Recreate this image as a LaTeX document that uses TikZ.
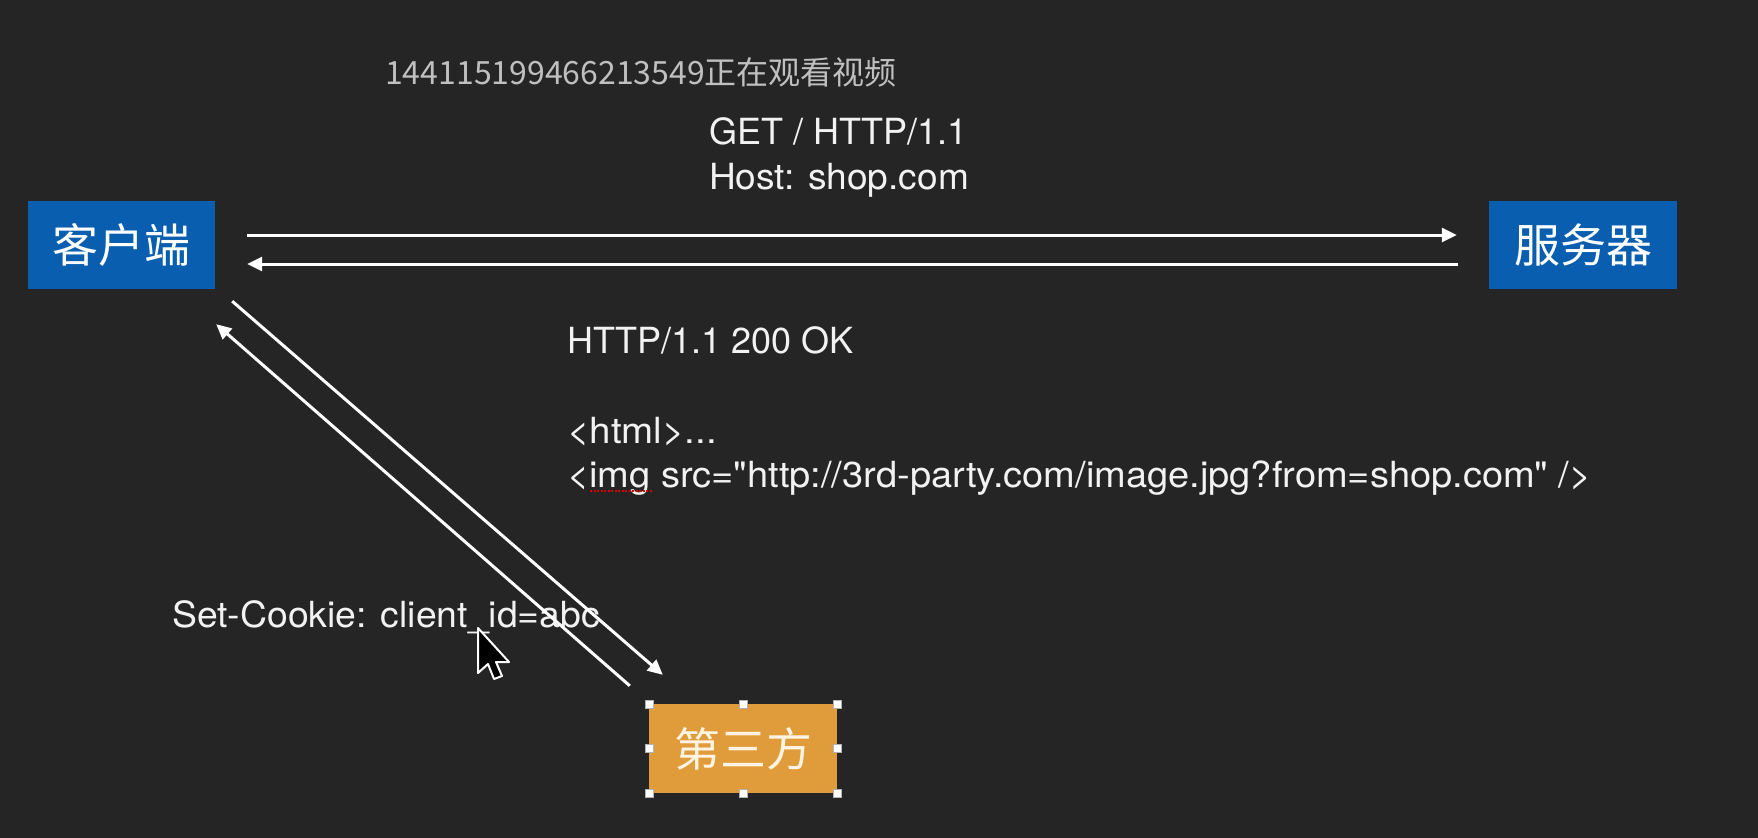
\documentclass[tikz,border=0pt]{standalone}
\usepackage{fontspec}
\setmainfont{TeX Gyre Heros}[Ligatures=TeXOff]
\newfontfamily\cjk{Noto Sans CJK SC}
\usetikzlibrary{arrows.meta,calc}
\definecolor{bg}{HTML}{252525}
\definecolor{boxblue}{HTML}{0A5EB0}
\definecolor{boxorange}{HTML}{E09B3B}
\definecolor{txt}{HTML}{F2F2F2}
\definecolor{wm}{HTML}{C0C0C0}
\definecolor{cream}{HTML}{FFF4E2}
\tikzset{
  bluebox/.style={fill=boxblue, text=white, minimum width=187bp, minimum height=88bp, inner sep=0pt, font=\cjk\fontsize{46bp}{50bp}\selectfont},
  orangebox/.style={fill=boxorange, text=cream, minimum width=188bp, minimum height=89bp, inner sep=0pt, font=\cjk\fontsize{46bp}{50bp}\selectfont},
  label/.style={anchor=base west, inner sep=0pt, text=txt, font=\fontsize{36bp}{44bp}\selectfont},
  msg/.style={draw=white, line width=3bp, -{Triangle[length=15bp,width=14bp]}},
  handle/.style={fill=white, draw=gray!60, line width=0.6bp, minimum size=8bp, inner sep=0pt},
}
\begin{document}
\begin{tikzpicture}[x=1bp, y=-1bp]
\fill[bg] (0,0) rectangle (1758,838);
\useasboundingbox (0,0) rectangle (1758,838);

% watermark
\node[anchor=base west, inner sep=0pt, text=wm, font=\cjk\fontsize{32bp}{36bp}\selectfont] (wmark) at (385,84) {144115199466213549正在观看视频};

% boxes
\node[bluebox] (client) at (121.5,245) {客户端};
\node[bluebox, minimum width=188bp] (server) at (1583,245) {服务器};
\node[orangebox] (third) at (743,748.5) {第三方};

% selection handles
\foreach \a in {north west,north,north east,east,south east,south,south west,west}
  \node[handle] (h-\a) at (third.\a) {};

% texts
\node[label] (get) at (709,144) {GET / HTTP/1.1};
\node[label] (host) at (709,189) {\scalebox{1.03}[1]{Host: shop.com}};
\node[label] (ok) at (567,353) {HTTP/1.1 200 OK};
\node[label] (html) at (567,443) {\scalebox{1.07}[1]{<html>...}};
\node[label] (img) at (567,487) {\scalebox{1.056}[1]{<img src="http://3rd-party.com/image.jpg?from=shop.com" />}};
\node[label] (cookie) at (172,627) {\scalebox{1.038}[1]{Set-Cookie: client\_id=abc}};

% spell-check squiggle under "img"
\draw[red!85!black, line width=1.6bp, dash pattern=on 2bp off 1.5bp] (590,491) -- (652,491);

% connectors
\draw[msg] ($(client.east)+(32,-10)$) -- ($(server.west)+(-32,-10)$);
\draw[msg] ($(server.west)+(-31,19)$) -- ($(client.east)+(32,19)$);
\draw[msg] ($(client.south east)+(17,12)$) -- ($(third.north west)+(14,-29)$);
\draw[msg] ($(third.north west)+(-19,-18)$) -- ($(client.south east)+(1,35)$);

% mouse pointer
\draw[fill=black, draw=white, line width=2bp, line join=round]
  (478,628) -- ++(0,45) -- ++(10,-9) -- ++(6,15) -- ++(8,-3) -- ++(-6,-14) -- ++(13,0) -- cycle;
\end{tikzpicture}
\end{document}
